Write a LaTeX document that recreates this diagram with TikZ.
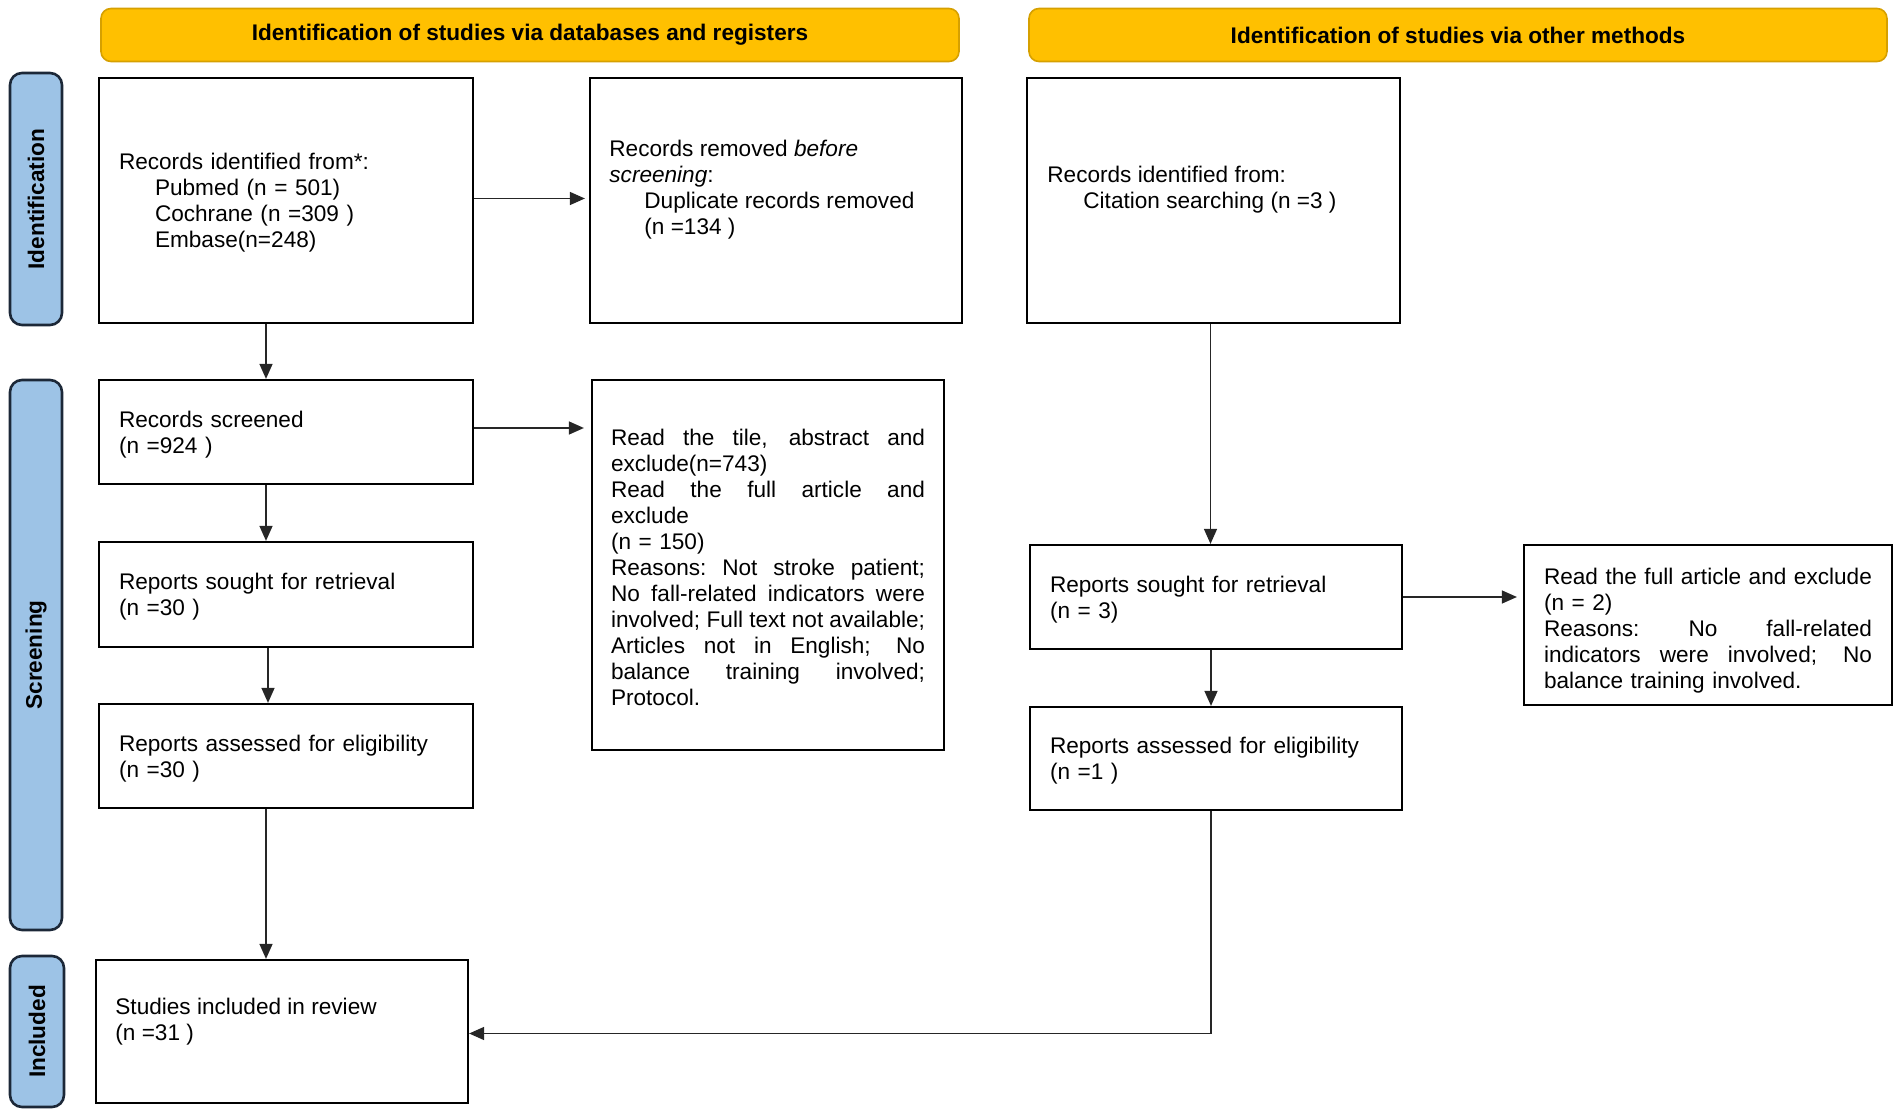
\documentclass[tikz,border=0pt]{standalone}
\usepackage{fontspec}
\setmainfont{Liberation Sans}
\usetikzlibrary{arrows.meta,calc}
\definecolor{hdrfill}{RGB}{255,192,0}
\definecolor{hdrline}{RGB}{214,160,0}
\definecolor{sidefill}{RGB}{157,195,230}
\definecolor{sideline}{RGB}{28,40,56}
\newcommand{\prismafont}{\fontsize{11.3pt}{13pt}\selectfont}
\newcommand{\jline}[1]{\makebox[\linewidth][s]{\spaceskip=0.25em plus 1fil minus 0.1em\xspaceskip=\spaceskip #1}}
\newcommand{\ind}{\hspace*{18pt}}
\tikzset{
  box/.style={draw=black, line width=1.1pt, inner xsep=10pt, inner ysep=0pt, align=left, font=\prismafont,
              execute at begin node={\rule{0pt}{10.8pt}}},
  txt/.style={inner sep=0pt, align=left, anchor=west, font=\prismafont},
  hdr/.style={draw=hdrline, fill=hdrfill, line width=0.8pt, rounded corners=5pt, minimum width=429pt, minimum height=26.5pt, font=\prismafont\bfseries},
  side/.style={draw=sideline, fill=sidefill, line width=1.3pt, rounded corners=6pt, rotate=90, font=\prismafont\bfseries},
  arr/.style={draw=black!85, line width=0.7pt, -{Triangle[length=7.5pt,width=6.5pt]}}
}
\begin{document}
\begin{tikzpicture}[x=0.5pt,y=-0.5pt]
\useasboundingbox (0,0) rectangle (1902,1117);
% headers
\node[hdr] (h1) at (530,35) {Identification of studies via databases and registers};
\node[hdr] (h2) at (1458,35) {Identification of studies via other methods};
% side labels
\node[side, minimum width=126pt, minimum height=26pt] (sid) at (36,199) {Identification};
\node[side, minimum width=275pt, minimum height=26pt] (ssc) at (36,655) {Screening};
\node[side, minimum width=75.5pt, minimum height=27pt] (sin) at (37,1031.5) {Included};
% left column
\node[box, text width=167pt, minimum height=122.5pt] (b1) at (286,200.5)
  {Records identified from*:\\ \ind Pubmed (n = 501)\\ \ind Cochrane (n =309 )\\ \ind Embase(n=248)};
\node[box, text width=166pt, minimum height=122.5pt] (b2) at (776,200.5) {};
\node[txt] (b2t) at (609,189.5)
  {Records removed \textit{before}\\ \textit{screening}:\\ \hspace*{17.5pt}Duplicate records removed\\ \hspace*{17.5pt}(n =134 )};
\node[box, text width=167pt, minimum height=52pt] (scr) at (286,432) {Records screened\\(n =924 )};
\node[box, inner xsep=9.5pt, text width=157pt, minimum height=185pt] (excl) at (768,565)
  {\jline{Read the tile, abstract and}\\ exclude(n=743)\\ \jline{Read the full article and}\\ exclude\\ (n = 150)\\
   \jline{Reasons: Not stroke patient;}\\ \jline{No fall-related indicators were}\\ \jline{involved; Full text not available;}\\
   \jline{Articles not in English; No}\\ \jline{balance training involved;}\\ Protocol.};
\node[box, text width=167pt, minimum height=52.5pt] (sought) at (286,594.5) {Reports sought for retrieval\\(n =30 )};
\node[box, text width=167pt, minimum height=52pt] (assess) at (286,756) {Reports assessed for eligibility\\(n =30 )};
\node[box, text width=166pt, minimum height=71.5pt] (st) at (282,1031.5) {};
\node[txt] (stt) at (115,1022) {Studies included in review\\(n =31 )};
% right column
\node[box, text width=166.5pt, minimum height=122.5pt] (b3) at (1213.5,200.5) {};
\node[txt] (b3t) at (1047,190) {Records identified from:\\ \ind Citation searching (n =3 )};
\node[box, text width=166pt, minimum height=52pt] (rs) at (1216,597) {Reports sought for retrieval\\(n = 3)};
\node[box, text width=164pt, minimum height=80pt, execute at begin node={\rule{0pt}{13.5pt}}] (rex) at (1708,625)
  {Read the full article and exclude\\ (n = 2)\\ \jline{Reasons: No fall-related}\\ \jline{indicators were involved; No}\\ balance training involved.};
\node[box, text width=166pt, minimum height=51.5pt] (ra) at (1216,758.5) {Reports assessed for eligibility\\(n =1 )};
% connectors
\draw[arr] ([xshift=-10pt]b1.south) -- ([xshift=-10pt]scr.north);
\draw[arr, shorten >=2pt] ([yshift=1pt]b1.east) -- ([yshift=1pt]b2.west);
\draw[arr, shorten >=3.5pt] ([yshift=2pt]scr.east) -- ([yshift=2pt]scr.east -| excl.west);
\draw[arr] ([xshift=-10pt]scr.south) -- ([xshift=-10pt]sought.north);
\draw[arr] ([xshift=-9pt]sought.south) -- ([xshift=-9pt]assess.north);
\coordinate (a4) at ($(assess.south)+(-20,0)$);
\draw[arr] (a4) -- (a4 |- st.north);
\draw[arr] ([xshift=-1.5pt]b3.south) -- ([xshift=-1.5pt]b3.south |- rs.north);
\draw[arr, shorten >=3pt] (rs.east) -- (rs.east -| rex.west);
\draw[arr] ([xshift=-2.5pt]rs.south) -- ([xshift=-2.5pt]ra.north);
\draw[arr] ([xshift=-2.5pt]ra.south) |- ([yshift=-1pt]st.east);
\end{tikzpicture}
\end{document}
